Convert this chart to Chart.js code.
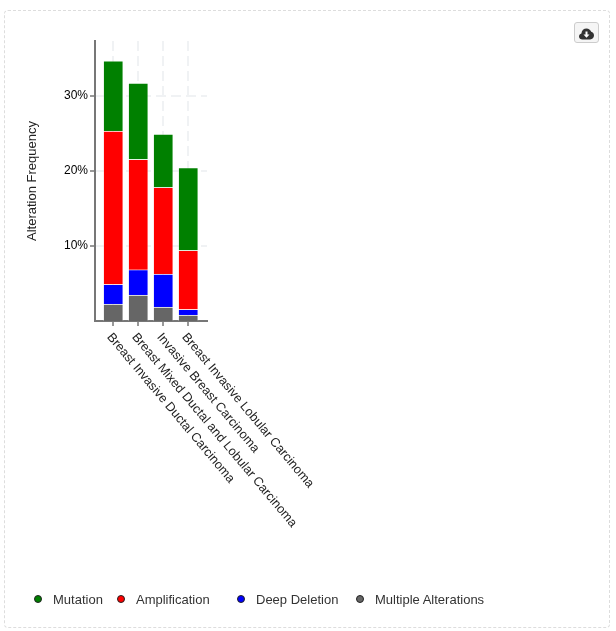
<!DOCTYPE html>
<html>
<head>
<meta charset="utf-8">
<script src="https://cdn.jsdelivr.net/npm/chart.js@4"></script>
<style>
    body { margin: 0; background: #fff; font-family: Arial, "Liberation Sans", sans-serif; }
    #box { position: absolute; left: 4px; top: 10px; width: 604px; height: 616px; border: 1px dashed #ddd; border-radius: 4px; }
    #chart { position: absolute; left: 0; top: 0; }
    #download { position: absolute; left: 574px; top: 22px; width: 25px; height: 21px; padding: 0; box-sizing: border-box; background: #f5f5f5; border: 1px solid #ccc; border-radius: 3px; }
    #download svg { display: block; margin: 3px auto 0; }
    .legend-item { position: absolute; top: 593px; font-size: 13px; line-height: 14px; color: #333; white-space: nowrap; }
    .legend-dot { position: absolute; width: 6px; height: 6px; border: 1px solid #222; border-radius: 50%; }
</style>
</head>
<body>
<div id="box"></div>
<canvas id="chart" width="616" height="631"></canvas>
<button id="download">
    <svg width="15" height="12" viewBox="0 0 15 12">
        <path d="M3.5 11.5C1.5 11.5 0 10.2 0 8.4 0 6.9 1 5.7 2.4 5.4 2.6 2.5 4.8.5 7.5.5c2.2 0 4 1.3 4.7 3.3C13.800 4 15 5.500 15 7.600c0 2.200-1.700 3.900-3.800 3.900z" fill="#333"/>
        <path d="M6.500 3.500h2v3h2l-3 3.200-3-3.200h2z" fill="#fff"/>
    </svg>
</button>
<div id="legend"></div>

<script>
const categories = [
    'Breast Invasive Ductal Carcinoma',
    'Breast Mixed Ductal and Lobular Carcinoma',
    'Invasive Breast Carcinoma',
    'Breast Invasive Lobular Carcinoma'
];
const multiple = [2.27, 3.47, 1.87, 0.8];
const deepDeletion = [2.62, 3.37, 4.4, 0.76];
const amplification = [20.44, 14.72, 11.55, 7.86];
const mutation = [9.34, 10.17, 7.11, 11.02];
const yTicks = [10, 20, 30];

const gridColor = '#f0f2f4';
const axisColor = '#777';

function series(label, values, color) {
    return {
        label: label,
        data: values.map((v, i) => ({ x: i, y: v })),
        backgroundColor: color,
        borderColor: 'rgba(255, 255, 255, 0.25)',
        borderWidth: 1,
        barThickness: 20
    };
}

const ctx = document.getElementById('chart');
const chart = new Chart(ctx, {
    type: 'bar',
    data: {
        datasets: [
            series('Multiple Alterations', multiple, '#666666'),
            series('Deep Deletion', deepDeletion, '#0000ff'),
            series('Amplification', amplification, '#ff0000'),
            series('Mutation', mutation, '#008000')
        ]
    },
    options: {
        responsive: false,
        animation: false,
        layout: { padding: { top: 41, right: 409, bottom: 0, left: 0 } },
        plugins: { legend: { display: false }, tooltip: { enabled: false } },
        scales: {
            x: {
                type: 'linear',
                stacked: true,
                offset: false,
                min: -0.73,
                max: 3.75,
                beforeUpdate: scale => { scale._getXAxisLabelAlignment = () => 'left'; },
                afterBuildTicks: scale => { scale.ticks = categories.map((c, i) => ({ value: i })); },
                afterFit: scale => {
                    scale.height = 310;
                    scale.paddingLeft = 0;
                    scale.paddingRight = 0;
                },
                border: { color: axisColor, width: 2, dash: [10, 5] },
                grid: { offset: false, color: gridColor, lineWidth: 2, tickColor: '#333', tickWidth: 1, tickLength: 5, tickBorderDash: [] },
                ticks: {
                    autoSkip: false,
                    minRotation: -50,
                    maxRotation: -50,
                    color: '#222',
                    padding: 4,
                    labelOffset: -4,
                    font: { family: 'Arial, "Liberation Sans"', size: 12.7 },
                    callback: value => categories[value]
                }
            },
            y: {
                stacked: true,
                min: 0,
                max: 37.33,
                afterBuildTicks: scale => { scale.ticks = yTicks.map(v => ({ value: v })); },
                afterFit: scale => { scale.width = 95; },
                border: { color: axisColor, width: 2, dash: [10, 5] },
                grid: { color: gridColor, lineWidth: 2, tickColor: '#333', tickWidth: 1, tickLength: 5, tickBorderDash: [] },
                title: {
                    display: true,
                    text: 'Alteration Frequency',
                    color: '#222',
                    padding: { top: 25, bottom: 0 },
                    font: { family: 'Arial, "Liberation Sans"', size: 13 }
                },
                ticks: {
                    color: '#000',
                    padding: 2,
                    font: { family: 'Arial, "Liberation Sans"', size: 12 },
                    callback: value => value + '%'
                }
            }
        }
    }
});

// html legend, the spacing in the picture is uneven
const legendOrder = [3, 2, 1, 0];
const legendDotX = [34, 117, 237, 356];
const legendTextX = [53, 136, 256, 375];
let context = '';
legendOrder.forEach((d, i) => {
    const ds = chart.data.datasets[d];
    context += '<span class="legend-dot" style="left:' + legendDotX[i] + 'px;top:595px;background:' + ds.backgroundColor + '"></span>';
    context += '<span class="legend-item" style="left:' + legendTextX[i] + 'px">' + ds.label + '</span>';
});
document.getElementById('legend').innerHTML = context;
</script>
</body>
</html>
